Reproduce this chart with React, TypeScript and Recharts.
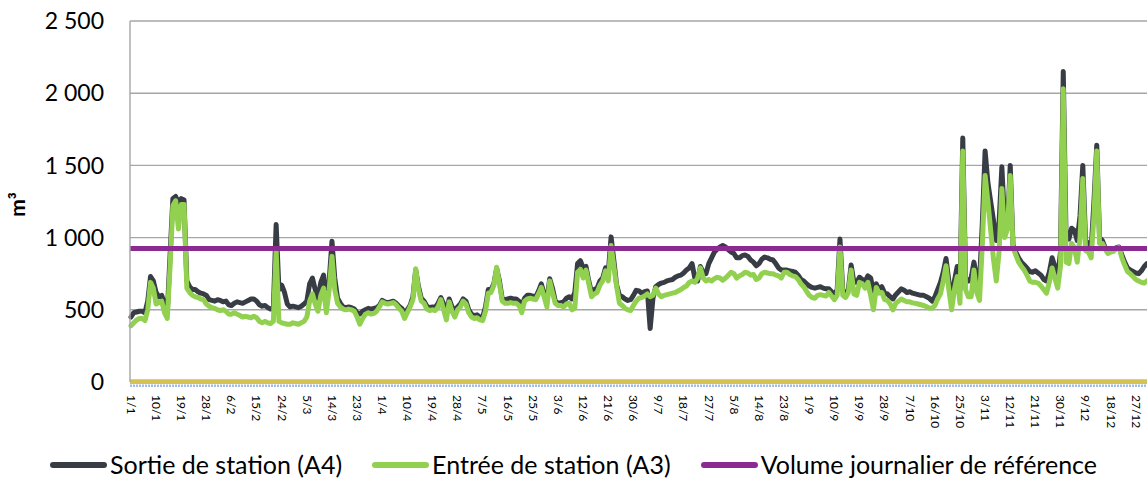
import React from 'react';
import { LineChart, Line, XAxis, YAxis, CartesianGrid, ReferenceLine } from 'recharts';

// Calendar of a non-leap year: one category per day (1/1 ... 31/12)
const MONTH_LENGTHS = [31, 28, 31, 30, 31, 30, 31, 31, 30, 31, 30, 31];
const dayLabels: string[] = [];
MONTH_LENGTHS.forEach((len, m) => {
  for (let d = 1; d <= len; d++) dayLabels.push(`${d}/${m + 1}`);
});

// Sortie de station (A4), m³ per day
const sortieA4 = [
  450, 480, 485, 490, 490, 480, 560, 730, 700, 620,
  590, 600, 540, 480, 880, 1270, 1285, 1240, 1270, 1260,
  700, 660, 640, 640, 625, 615, 610, 600, 570, 565,
  560, 570, 565, 555, 560, 535, 530, 545, 555, 550,
  545, 555, 565, 575, 575, 560, 535, 525, 530, 515,
  505, 510, 1090, 640, 670, 620, 540, 520, 525, 520,
  515, 525, 540, 560, 680, 720, 640, 580, 690, 740,
  560, 700, 975, 720, 580, 545, 520, 515, 520, 515,
  505, 480, 470, 490, 500, 510, 505, 510, 515, 530,
  565, 555, 550, 555, 560, 545, 525, 510, 480, 500,
  530, 590, 775, 660, 580, 560, 525, 515, 520, 515,
  545, 585, 540, 480, 575, 520, 500, 520, 540, 575,
  560, 500, 470, 460, 465, 450, 450, 520, 640, 640,
  680, 785, 700, 575, 570, 575, 580, 575, 575, 560,
  525, 580, 600, 600, 595, 590, 630, 680, 610, 560,
  715, 650, 560, 545, 550, 555, 580, 590, 575, 620,
  820, 840, 790, 800, 700, 620, 640, 650, 700, 720,
  790, 760, 1005, 840, 670, 600, 590, 575, 565, 570,
  600, 635, 630, 615, 625, 630, 370, 580, 660, 675,
  685, 690, 700, 705, 710, 725, 735, 740, 755, 775,
  790, 820, 720, 700, 800, 760, 750, 820, 860, 900,
  920, 935, 945, 935, 915, 900, 890, 860, 860, 875,
  880, 870, 845, 830, 805, 820, 850, 865, 860, 850,
  845, 820, 790, 775, 775, 775, 770, 765, 760, 740,
  710, 700, 680, 665, 655, 650, 655, 660, 650, 645,
  645, 625, 605, 640, 990, 640, 595, 640, 810, 690,
  690, 725, 710, 695, 735, 720, 630, 680, 640, 660,
  615, 610, 590, 575, 605, 625, 645, 635, 620, 625,
  615, 610, 605, 600, 600, 590, 580, 560, 590, 640,
  690, 760, 855, 700, 545, 700, 800, 640, 1690, 720,
  700, 720, 830, 720, 690, 1100, 1600, 1380, 1250, 1120,
  980, 1100, 1490, 1100, 1060, 1500, 950, 900, 860, 830,
  810, 790, 765, 760, 770, 755, 740, 710, 700, 760,
  860, 800, 720, 900, 2150, 1000, 990, 1065, 1050, 980,
  1150, 1500, 980, 960, 920, 1250, 1640, 1000, 980, 930,
  900, 905, 910, 930, 935, 880, 830, 790, 775, 765,
  755, 750, 770, 800, 820,
];

// Entrée de station (A3), m³ per day
const entreeA3 = [
  390, 410, 430, 440, 440, 425, 500, 690, 650, 540,
  550, 560, 480, 440, 800, 1220, 1255, 1060, 1230, 1230,
  650, 620, 600, 590, 585, 575, 570, 540, 525, 515,
  510, 500, 495, 500, 490, 470, 470, 480, 470, 460,
  450, 455, 450, 445, 455, 445, 420, 410, 420, 410,
  405, 420, 910, 420, 410, 405, 400, 400, 410, 405,
  400, 410, 420, 450, 560, 610, 540, 490, 600, 650,
  480, 640, 870, 640, 545, 520, 505, 500, 505, 500,
  490, 450, 400, 440, 470, 480, 470, 475, 490, 520,
  555, 545, 540, 545, 550, 535, 510, 490, 440, 480,
  520, 570, 785, 640, 560, 545, 505, 495, 500, 495,
  520, 570, 500, 430, 555, 490, 450, 500, 520, 560,
  540, 480, 450, 440, 445, 430, 425, 490, 615, 620,
  670, 795, 680, 560, 545, 545, 550, 545, 545, 530,
  480, 560, 575, 580, 575, 570, 610, 655, 590, 520,
  700, 620, 545, 530, 530, 520, 540, 545, 500, 510,
  760, 780, 720, 775, 680, 590, 610, 620, 670, 700,
  770, 700, 945, 800, 660, 545, 530, 510, 500, 495,
  530, 560, 580, 585, 595, 610, 590, 600, 650, 610,
  590, 600, 605, 610, 615, 620, 630, 640, 655, 665,
  690, 700, 690, 720, 790, 720, 700, 710, 700, 715,
  725, 720, 705, 720, 740, 760, 750, 720, 735, 745,
  760, 755, 740, 745, 710, 720, 750, 760, 755, 750,
  750, 740, 735, 720, 760, 760, 745, 735, 730, 710,
  680, 660, 630, 600, 585, 580, 600, 605, 600, 595,
  620, 595, 570, 600, 935, 600, 585, 620, 775, 610,
  600, 690, 680, 650, 690, 600, 500, 655, 615, 620,
  570, 565, 540, 500, 545, 560, 575, 565, 555, 555,
  548, 545, 540, 535, 530, 522, 512, 510, 530, 575,
  610, 700, 805, 640, 500, 640, 730, 545, 1600, 640,
  590, 590, 775, 620, 565, 950, 1430, 1250, 1050, 850,
  700, 900, 1340, 1000, 1060, 1430, 930, 880, 830, 800,
  775, 740, 700, 690, 690, 685, 665, 640, 615, 690,
  790, 720, 650, 800, 2030, 830, 820, 960, 930, 830,
  1000, 1410, 910, 900, 860, 1150, 1600, 960, 960, 920,
  890, 900, 905, 925, 930, 860, 810, 765, 750, 730,
  710, 700, 690, 685, 700,
];

const REFERENCE_VOLUME = 925;
const Y_TICKS = [0, 500, 1000, 1500, 2000, 2500];

const SERIES_NAMES = {
  a4: 'Sortie de station (A4)',
  a3: 'Entrée de station (A3)',
  ref: 'Volume journalier de référence',
};

const COLORS = {
  a4: '#383D45',
  a3: '#92D050',
  ref: '#8B2B92',
  zeroYellow: '#D6C153',
  zeroBlue: '#A4BEE3',
  grid: '#A6A6A6',
};

const data = dayLabels.map((day, i) => ({ day, a4: sortieA4[i], a3: entreeA3[i] }));

const FONT = 'Lato, "Open Sans", sans-serif';

const formatThousands = (v: number) => String(v).replace(/\B(?=(\d{3})+(?!\d))/g, '\u00a0');

const DateTick = (props: any) => {
  const { x, y, payload } = props;
  return (
    <g transform={`translate(${x},${y})`}>
      <text
        transform="rotate(90)"
        x={0}
        y={0}
        dy="0.35em"
        textAnchor="start"
        fontSize={12}
        fontFamily={FONT}
        fill="#000"
      >
        {payload.value}
      </text>
    </g>
  );
};

const UnitLabel = (props: any) => {
  const vb = props.viewBox || { x: 0, y: 21, width: 130, height: 361 };
  const cx = vb.x + 18;
  const cy = vb.y + vb.height / 2 + 3;
  return (
    <text
      transform={`translate(${cx},${cy}) rotate(-90)`}
      textAnchor="middle"
      dy="0.35em"
      fontSize={21}
      fontWeight="bold"
      fontFamily={FONT}
      fill="#000"
    >
      m³
    </text>
  );
};

const offsetLine = (dy: number, stroke: string, width: number, dash?: string) => (p: any) => (
  <line
    x1={Number(p.x1)}
    y1={Number(p.y1) + dy}
    x2={Number(p.x2)}
    y2={Number(p.y2) + dy}
    stroke={stroke}
    strokeWidth={width}
    strokeDasharray={dash}
  />
);

const LegendItem = ({ color, label }: { color: string; label: string }) => (
  <div style={{ display: 'flex', alignItems: 'center' }}>
    <div style={{ width: 57, height: 6, borderRadius: 3, background: color, marginRight: 3 }} />
    <span style={{ lineHeight: '25px' }}>{label}</span>
  </div>
);

export default function App() {
  return (
    <div
      style={{
        position: 'absolute',
        left: 0,
        top: 0,
        width: 1147,
        height: 479,
        background: '#fff',
        overflow: 'hidden',
      }}
    >
      <LineChart
        width={1147}
        height={430}
        data={data}
        margin={{ top: 21, right: 0, bottom: 0, left: 0 }}
      >
        <CartesianGrid vertical={false} stroke={COLORS.grid} strokeWidth={1.4} />
        <XAxis
          dataKey="day"
          interval={8}
          axisLine={false}
          tickLine={false}
          tickSize={0}
          tickMargin={13}
          height={48}
          padding={{ left: 1, right: 0 }}
          tick={<DateTick />}
        />
        <YAxis
          width={130}
          domain={[0, 2500]}
          ticks={Y_TICKS}
          axisLine={{ stroke: COLORS.grid, strokeWidth: 1.4 }}
          tickLine={false}
          tickSize={0}
          tickMargin={26}
          tickFormatter={formatThousands}
          tick={{ fontSize: 23, fill: '#000', fontFamily: FONT }}
          label={<UnitLabel />}
        />
        <ReferenceLine y={0} shape={offsetLine(3.8, COLORS.zeroBlue, 2.6, '2 1')} />
        <ReferenceLine y={0} shape={offsetLine(-0.3, COLORS.zeroYellow, 4.7)} />
        <Line
          type="linear"
          dataKey="a4"
          name={SERIES_NAMES.a4}
          stroke={COLORS.a4}
          strokeWidth={5}
          strokeLinejoin="round"
          strokeLinecap="round"
          dot={false}
          activeDot={false}
          isAnimationActive={false}
        />
        <Line
          type="linear"
          dataKey="a3"
          name={SERIES_NAMES.a3}
          stroke={COLORS.a3}
          strokeWidth={5}
          strokeLinejoin="round"
          strokeLinecap="round"
          dot={false}
          activeDot={false}
          isAnimationActive={false}
        />
        <ReferenceLine y={REFERENCE_VOLUME} stroke={COLORS.ref} strokeWidth={5} />
      </LineChart>
      <div
        style={{
          position: 'absolute',
          left: 0,
          top: 452,
          width: 1147,
          height: 25,
          display: 'flex',
          justifyContent: 'center',
          alignItems: 'center',
          gap: 30,
          fontFamily: FONT,
          fontSize: 25,
          lineHeight: '25px',
          color: '#000',
          whiteSpace: 'nowrap',
        }}
      >
        <LegendItem color={COLORS.a4} label={SERIES_NAMES.a4} />
        <LegendItem color={COLORS.a3} label={SERIES_NAMES.a3} />
        <LegendItem color={COLORS.ref} label={SERIES_NAMES.ref} />
      </div>
    </div>
  );
}
